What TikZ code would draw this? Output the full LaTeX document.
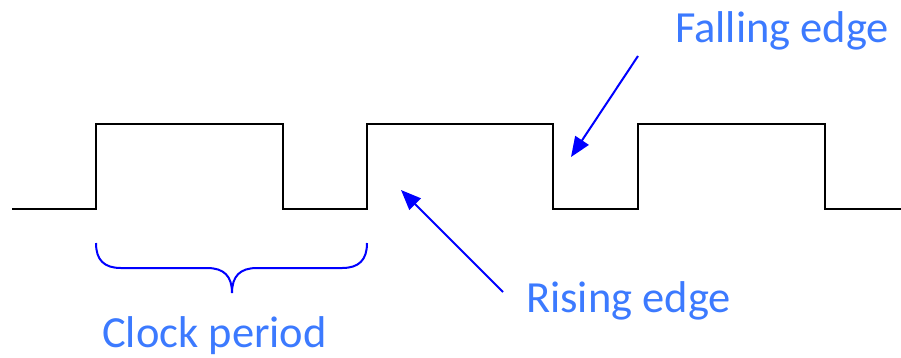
\documentclass[tikz,border=0pt]{standalone}
\usepackage{fontspec}
\setmainfont{Carlito}
\usetikzlibrary{arrows.meta}
\definecolor{lbl}{RGB}{60,122,255}
\definecolor{arr}{RGB}{0,0,255}
\tikzset{
  wave/.style={line width=2pt, black, line join=miter},
  pointer/.style={line width=2pt, arr, -{Triangle[length=20pt,width=16pt]}},
  brc/.style={line width=2pt, arr},
  lbltext/.style={text=lbl, font=\fontsize{44.5}{48}\selectfont, inner sep=0pt, anchor=base west}
}
\begin{document}
\begin{tikzpicture}[x=1pt,y=-1pt]
\useasboundingbox (0,0) rectangle (901,357);
% waveform
\draw[wave] (12,209) -- (96,209) -- (96,124) -- (283,124) -- (283,209) -- (367,209) -- (367,124) -- (553,124) -- (553,209) -- (638,209) -- (638,124) -- (825,124) -- (825,209) -- (901,209);
% labels
\node[lbltext] (fall) at (675,42) {Falling edge};
\node[lbltext] (rise) at (526,312) {Rising edge};
\node[lbltext] (clk) at (102,347) {Clock period};
% arrows
\coordinate (fallS) at (638,56);
\coordinate (fallT) at (571,157);
\coordinate (riseS) at (503,292);
\coordinate (riseT) at (401,190);
\draw[pointer] (fallS) -- (fallT);
\draw[pointer] (riseS) -- (riseT);
% brace
\coordinate (bL) at (96,243);
\coordinate (bR) at (367,243);
\coordinate (bM) at (232,293);
\draw[brc] (bL) .. controls (96,260) and (104,268) .. (121,268) -- (207,268) .. controls (224,268) and (232,276) .. (bM)
  .. controls (232,276) and (240,268) .. (257,268) -- (342,268) .. controls (359,268) and (367,260) .. (bR);
\end{tikzpicture}
\end{document}
